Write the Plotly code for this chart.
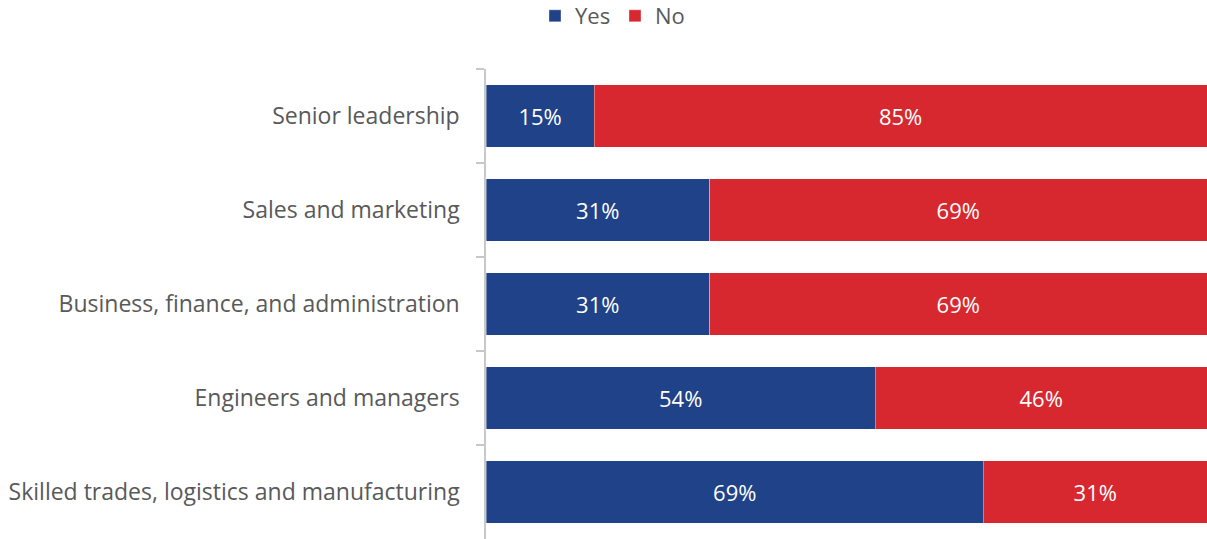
import plotly.graph_objects as go

categories = [
    "Senior leadership",
    "Sales and marketing",
    "Business, finance, and administration",
    "Engineers and managers",
    "Skilled trades, logistics and manufacturing",
]
yes_pct = [15, 31, 31, 54, 69]
no_pct = [85, 69, 69, 46, 31]

BLUE = "#1F4288"
RED = "#D7282F"
FONT = "Open Sans"

fig = go.Figure()
for name, vals, color in [("Yes", yes_pct, BLUE), ("No", no_pct, RED)]:
    fig.add_trace(go.Bar(
        name=name,
        y=categories,
        x=vals,
        orientation="h",
        marker=dict(color=color, line=dict(color="rgba(255,255,255,0.6)", width=0.6)),
        text=[f"{v}%" for v in vals],
        textposition="inside",
        insidetextanchor="middle",
        textfont=dict(color="white", size=22, family=FONT),
        textangle=0,
        hoverinfo="skip",
    ))

fig.update_layout(
    barmode="stack",
    bargap=0.33,
    width=1207,
    height=539,
    margin=dict(l=486, r=0, t=69, b=0, autoexpand=False),
    paper_bgcolor="white",
    plot_bgcolor="white",
    font=dict(family=FONT, color="#595959", size=22),
    showlegend=True,
    legend=dict(
        orientation="h",
        xref="container", yref="paper",
        x=535 / 1207, xanchor="left",
        y=1 + 53 / 470, yanchor="middle",
        font=dict(size=22, color="#595959", family=FONT),
        traceorder="normal",
        entrywidth=35,
        entrywidthmode="pixels",
    ),
    uniformtext=dict(minsize=22, mode="show"),
)
fig.update_xaxes(range=[0, 100], visible=False, fixedrange=True)
fig.update_yaxes(
    automargin=False,
    autorange="reversed",
    categoryorder="array",
    categoryarray=categories,
    showline=True,
    linecolor="#C8C8C8",
    linewidth=1.5,
    ticks="outside",
    tickson="boundaries",
    ticklen=8,
    tickcolor="#C8C8C8",
    tickwidth=1.5,
    ticklabelstandoff=20,
    tickfont=dict(size=23, color="#595959", family=FONT),
    showgrid=False,
)

fig.write_html("out.html")
